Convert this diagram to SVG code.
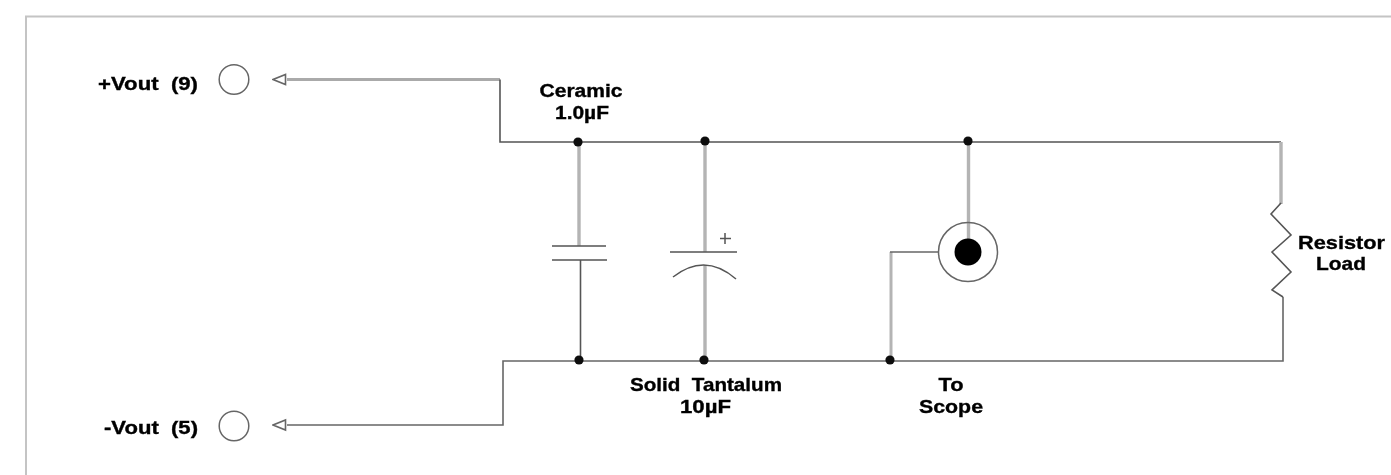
<svg xmlns="http://www.w3.org/2000/svg" width="1391" height="475" viewBox="0 0 1391 475">
<style>
.w{fill:none;stroke:#555;stroke-width:1.6}
.g{fill:none;stroke:#b4b4b4;stroke-width:3.4}
.t{fill:none;stroke:#666;stroke-width:1.5}
.d{fill:#111}
text{font-family:"Liberation Sans",Arial,sans-serif;font-weight:bold;font-size:18.5px;fill:#000;stroke:#000;stroke-width:0.35;white-space:pre;text-anchor:middle}
</style>
<defs>
<filter id="b" x="-5%" y="-5%" width="110%" height="110%"><feGaussianBlur stdDeviation="0.6"/></filter>
<marker id="a" viewBox="0 0 15 14" refX="14" refY="7" markerWidth="15" markerHeight="14" markerUnits="userSpaceOnUse" orient="auto"><path d="M1.500 2V12L14 7Z" fill="#fff" stroke="#666" stroke-width="1.6"/></marker>
</defs>
<rect width="1391" height="475" fill="#fff"/>
<g filter="url(#b)">
<path id="frame" d="M1391 16.500H26V475" fill="none" stroke="#c4c4c4" stroke-width="2"/>
<g id="connectors">
<path class="g" d="M287 79.500H500" style="stroke:#aaa;stroke-width:2.8"/>
<path class="w" d="M500 79.500V142H1281"/>
<path class="w" d="M287 425H503V361H1283V297" style="stroke:#666"/>
<path d="M287 79.500H273" fill="none" stroke="none" marker-end="url(#a)"/>
<path d="M287 425H273" fill="none" stroke="none" marker-end="url(#a)"/>
<path class="g" d="M1281 142V204"/>
<path class="g" d="M579 142V246"/>
<path class="w" d="M580.500 260V360"/>
<path class="g" d="M705 141V252M705 265V360"/>
<path class="g" d="M968.500 141V240"/>
<path class="g" d="M891 360V252" style="stroke-width:3"/>
<path class="t" d="M890 252H939"/>
<path class="w" d="M1281 203L1271 214L1291 235L1272 252L1291 272L1272 290L1283 297"/>
</g>
<g id="port-plus"><circle class="t" cx="234" cy="79.500" r="14.800"/><text x="148" y="90" textLength="100" lengthAdjust="spacingAndGlyphs">+Vout  (9)</text></g>
<g id="port-minus"><circle class="t" cx="234" cy="426" r="14.800"/><text x="151" y="434" textLength="94" lengthAdjust="spacingAndGlyphs">-Vout  (5)</text></g>
<g id="cap-ceramic">
<circle class="d" cx="578" cy="142" r="4.600"/><circle class="d" cx="579" cy="360" r="4.600"/>
<path class="t" d="M552 246H606M552 260H607" style="stroke:#555"/>
<text x="581" y="97" textLength="83" lengthAdjust="spacingAndGlyphs">Ceramic</text><text x="582" y="119" textLength="54" lengthAdjust="spacingAndGlyphs">1.0µF</text>
</g>
<g id="cap-tantalum">
<circle class="d" cx="705" cy="141" r="4.600"/><circle class="d" cx="704" cy="360" r="4.600"/>
<path class="t" d="M670 252H737M673 277Q705 252 736 279M720 238.500H731M725 233V244" style="stroke:#555"/>
<text x="706" y="391" textLength="152" lengthAdjust="spacingAndGlyphs">Solid  Tantalum</text><text x="705.500" y="413" textLength="51" lengthAdjust="spacingAndGlyphs">10µF</text>
</g>
<g id="scope">
<circle class="d" cx="968" cy="141" r="4.600"/><circle class="d" cx="890" cy="360" r="4.600"/>
<circle class="t" cx="968" cy="252" r="29.500"/><circle cx="968" cy="252" r="13.500" fill="#000"/>
<text x="951" y="391" textLength="25" lengthAdjust="spacingAndGlyphs">To</text><text x="951" y="413" textLength="64" lengthAdjust="spacingAndGlyphs">Scope</text>
</g>
<g id="load"><text x="1341.500" y="249" textLength="87" lengthAdjust="spacingAndGlyphs">Resistor</text><text x="1341" y="270" textLength="50" lengthAdjust="spacingAndGlyphs">Load</text></g>
</g>
</svg>
